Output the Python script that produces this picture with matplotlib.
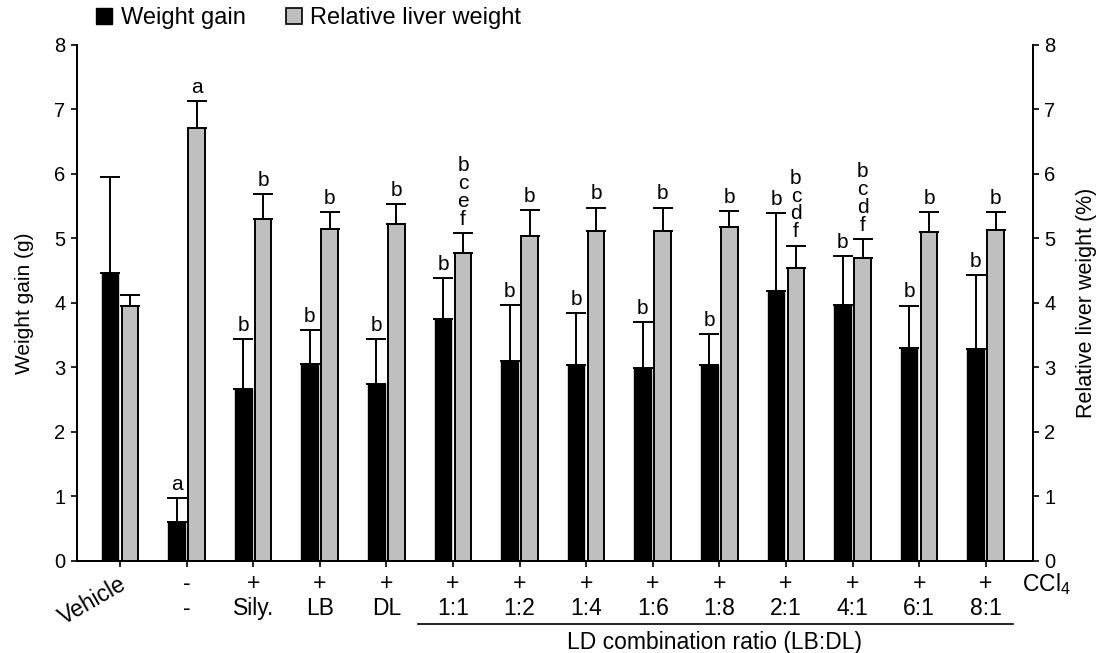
import numpy as np
import matplotlib
matplotlib.use('Agg')
import matplotlib.pyplot as plt
from matplotlib.patches import Patch

plt.rcParams['font.family'] = ['Liberation Sans', 'DejaVu Sans']
plt.rcParams['mathtext.fontset'] = 'custom'
plt.rcParams['mathtext.rm'] = 'Liberation Sans'

# x axis labels (two rows under the axis)
ccl4_row = ['', '-', '+', '+', '+', '+', '+', '+', '+', '+', '+', '+', '+', '+']
treat_row = ['', '-', 'Sily.', 'LB', 'DL', '1:1', '1:2', '1:4', '1:6', '1:8',
             '2:1', '4:1', '6:1', '8:1']

# weight gain (g), mean and upper SD
weight_gain = [4.47, 0.61, 2.66, 3.06, 2.74, 3.75, 3.10, 3.04, 2.99, 3.04,
               4.19, 3.97, 3.30, 3.29]
weight_gain_sd = [1.49, 0.37, 0.78, 0.52, 0.70, 0.63, 0.87, 0.80, 0.71, 0.48,
                  1.21, 0.76, 0.66, 1.14]
weight_letters = ['', 'a', 'b', 'b', 'b', 'b', 'b', 'b', 'b', 'b',
                  'b', 'b', 'b', 'b']

# relative liver weight (%), mean and upper SD
liver = [3.96, 6.71, 5.30, 5.15, 5.22, 4.78, 5.04, 5.11, 5.11, 5.18,
         4.55, 4.69, 5.10, 5.13]
liver_sd = [0.17, 0.42, 0.39, 0.26, 0.31, 0.30, 0.40, 0.37, 0.37, 0.24,
            0.34, 0.30, 0.31, 0.28]
liver_letters = ['', 'a', 'b', 'b', 'b', 'b\nc\ne\nf', 'b', 'b', 'b', 'b',
                 'b\nc\nd\nf', 'b\nc\nd\nf', 'b', 'b']

gray = '#bfbfbf'
fs_tick = 14.5
fs_let = 15
fs_x = 16.5

fig = plt.figure(figsize=(11.02, 6.53), dpi=100)
ax = fig.add_axes([0.0696, 0.1409, 0.8678, 0.7902])
ax2 = ax.twinx()

x = np.arange(len(weight_gain))
w = 0.25
off = 0.15

ax.bar(x - off, weight_gain, w, color='black', edgecolor='black', linewidth=1.0, zorder=2)
ax.bar(x + off, liver, w, color=gray, edgecolor='black', linewidth=1.4, zorder=2)

zeros = np.zeros(len(x))
ax.errorbar(x - off, weight_gain, yerr=[zeros, weight_gain_sd], fmt='none',
            ecolor='black', elinewidth=1.4, capsize=7, capthick=1.4, zorder=1)
ax.errorbar(x + off, liver, yerr=[zeros, liver_sd], fmt='none',
            ecolor='black', elinewidth=1.4, capsize=7, capthick=1.4, zorder=1)

# significance letters above each error bar
for i in range(len(x)):
    if weight_letters[i]:
        ax.annotate(weight_letters[i], (x[i] - off, weight_gain[i] + weight_gain_sd[i]),
                    xytext=(0, 3), textcoords='offset points', ha='center', va='bottom',
                    fontsize=fs_let, linespacing=0.93)
    if liver_letters[i]:
        ax.annotate(liver_letters[i], (x[i] + off, liver[i] + liver_sd[i]),
                    xytext=(0, 3), textcoords='offset points', ha='center', va='bottom',
                    fontsize=fs_let, linespacing=0.93)

ax.set_xlim(-0.65, 13.71)
ax.set_ylim(0, 8)
ax2.set_ylim(0, 8)
ax.set_yticks(range(9))
ax2.set_yticks(range(9))
ax.set_xticks(x)
ax.set_xticklabels([])

for a in (ax, ax2):
    for s in a.spines.values():
        s.set_linewidth(1.4)
    a.spines['top'].set_visible(False)
    a.tick_params(direction='out', length=4.5, width=1.2, labelsize=fs_tick)

ax.set_ylabel('Weight gain (g)', fontsize=15, labelpad=15)
ax2.set_ylabel('Relative liver weight (%)', fontsize=15.5, labelpad=15)

# labels under the axis
tr = ax.get_xaxis_transform()
for i in range(len(x)):
    ax.text(x[i], -0.043, ccl4_row[i], transform=tr, ha='center', va='center', fontsize=fs_x)
    ax.text(x[i], -0.093, treat_row[i], transform=tr, ha='center', va='center', fontsize=fs_x)
ax.text(-0.02, -0.022, 'Vehicle', transform=tr, ha='right', va='top', rotation=30,
        rotation_mode='anchor', fontsize=fs_x)
ax.text(13.55, -0.045, r'CCl$_\mathregular{4}$', transform=tr, ha='left', va='center',
        fontsize=fs_x)
ax.plot([4.47, 13.41], [-0.123, -0.123], transform=tr, color='black', lw=1.2,
        clip_on=False)
ax.text(8.93, -0.158, 'LD combination ratio (LB:DL)', transform=tr, ha='center',
        va='center', fontsize=fs_x)

handles = [Patch(facecolor='black', edgecolor='black'),
           Patch(facecolor=gray, edgecolor='black', linewidth=1.2)]
fig.legend(handles, ['Weight gain', 'Relative liver weight'], loc='center left',
           bbox_to_anchor=(0.087, 0.972), ncol=2, frameon=False, fontsize=17,
           handlelength=0.7, handleheight=0.65, handletextpad=0.35,
           columnspacing=1.7, borderpad=0, borderaxespad=0)

plt.savefig('out.png', dpi=100)
plt.close('all')
